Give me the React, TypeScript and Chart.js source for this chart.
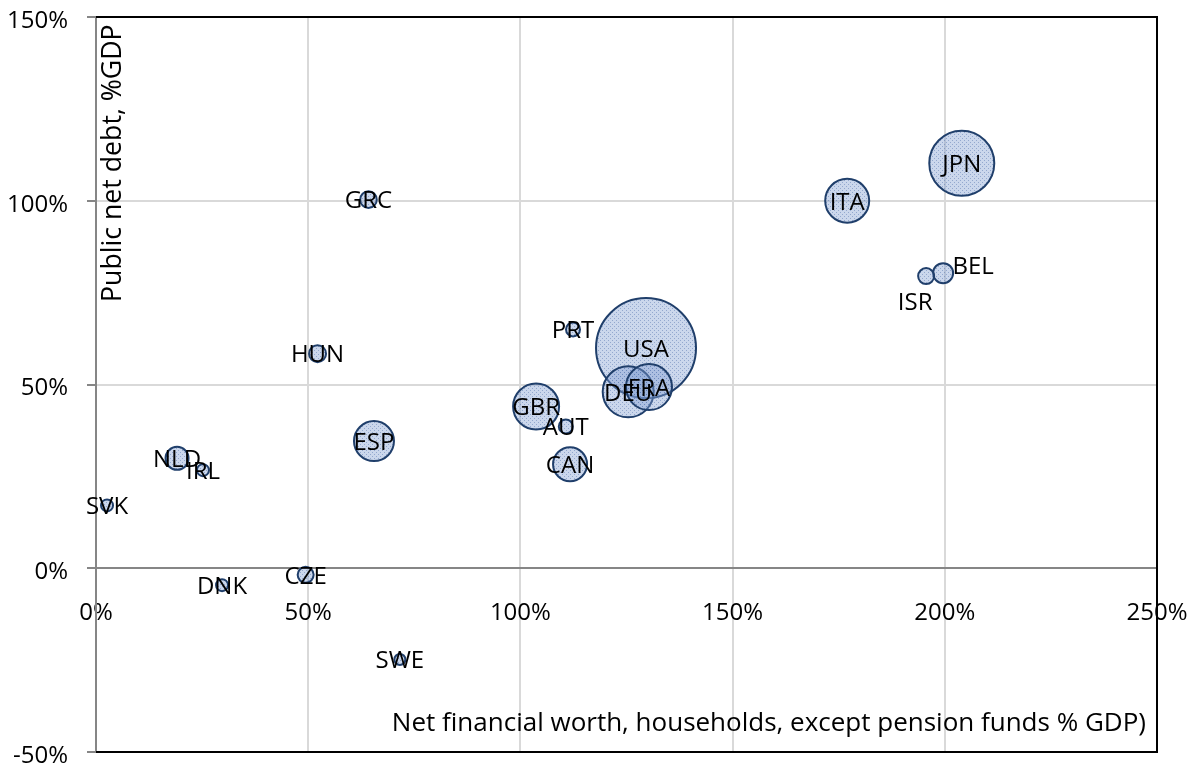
import React, { useEffect, useRef } from "react";
import { Chart, registerables } from "chart.js";

Chart.register(...registerables);

const FONT = "'Open Sans', 'Noto Sans', sans-serif";

// Country codes (drawn largest first)
const countries = ["USA", "JPN", "DEU", "FRA", "GBR", "ITA", "ESP", "CAN", "NLD", "BEL", "HUN", "GRC", "CZE", "ISR", "PRT", "AUT", "IRL", "SVK", "DNK", "SWE"];
// Net financial worth of households, except pension funds, % GDP
const netFinancialWorth = [129.6, 204.0, 125.4, 130.3, 103.7, 177.0, 65.5, 111.7, 19.1, 199.6, 52.2, 64.2, 49.4, 195.6, 112.4, 110.7, 25.2, 2.6, 29.7, 71.6];
// Public net debt, % GDP
const publicNetDebt = [59.9, 110.2, 48.0, 49.3, 44.0, 100.0, 34.6, 28.3, 29.9, 80.3, 58.4, 100.3, -1.8, 79.5, 65.0, 38.6, 26.7, 17.1, -4.6, -24.8];
// Bubble size
const bubbleSize = [50, 32.5, 25.5, 23, 23, 22, 20, 17, 11.5, 10, 8.5, 8.3, 8, 8, 7, 7, 6, 6, 6, 5.5];

const xTicks = [0, 50, 100, 150, 200, 250];
const yTicks = [-50, 0, 50, 100, 150];

const xTitle = "Net financial worth, households, except pension funds % GDP)";
const yTitle = "Public net debt, %GDP";

// label nudges relative to the bubble (Excel-style moved labels)
const labelNudge: Record<string, [number, number]> = {
  BEL: [30, -8],
  ISR: [-11, 25],
};

const zeroPad = (s: any) => {
  s.paddingLeft = 0;
  s.paddingRight = 0;
  s.paddingTop = 0;
  s.paddingBottom = 0;
};

export default function App() {
  const ref = useRef<HTMLCanvasElement | null>(null);

  useEffect(() => {
    const canvas = ref.current!;
    const ctx = canvas.getContext("2d")!;

    const pc = document.createElement("canvas");
    pc.width = 4;
    pc.height = 4;
    const g = pc.getContext("2d")!;
    g.fillStyle = "rgba(130,160,210,0.42)";
    g.fillRect(0, 0, 4, 4);
    g.fillStyle = "rgba(70,105,165,0.42)";
    g.fillRect(0, 0, 1, 1);
    g.fillRect(2, 2, 1, 1);
    const pattern = ctx.createPattern(pc, "repeat")!;

    const overlay = {
      id: "overlay",
      afterDatasetsDraw(chart: any) {
        const c = chart.ctx;
        const meta = chart.getDatasetMeta(0);
        c.save();
        c.font = `24px ${FONT}`;
        c.fillStyle = "#000";
        c.textAlign = "center";
        c.textBaseline = "middle";
        meta.data.forEach((el: any, i: number) => {
          const n = labelNudge[countries[i]] || [0, 0];
          c.fillText(countries[i], el.x + n[0], el.y + n[1] + 2);
        });
        c.restore();
      },
      afterDraw(chart: any) {
        const c = chart.ctx;
        const a = chart.chartArea;
        c.save();
        c.strokeStyle = "#000";
        c.lineWidth = 2;
        c.beginPath();
        c.moveTo(a.left, a.top);
        c.lineTo(a.right, a.top);
        c.lineTo(a.right, a.bottom);
        c.lineTo(a.left, a.bottom);
        c.stroke();

        c.fillStyle = "#000";
        c.font = `26px ${FONT}`;
        c.textAlign = "right";
        c.textBaseline = "middle";
        c.fillText(xTitle, a.right - 11, 724);

        c.font = `26.7px ${FONT}`;
        c.translate(a.left + 25, 302);
        c.rotate(-Math.PI / 2);
        c.textAlign = "left";
        c.textBaseline = "alphabetic";
        c.fillText(yTitle, 0, 0);
        c.restore();
      },
    };

    const chart = new Chart(canvas, {
      type: "bubble",
      data: {
        datasets: [
          {
            data: countries.map((_, i) => ({ x: netFinancialWorth[i], y: publicNetDebt[i], r: bubbleSize[i] })),
            backgroundColor: pattern,
            borderColor: "#203f6b",
            borderWidth: 2,
            hoverRadius: 0,
          },
        ],
      },
      options: {
        responsive: false,
        animation: false,
        devicePixelRatio: 1,
        events: [],
        layout: { autoPadding: false, padding: { top: 17, right: 37, bottom: 16, left: 0 } },
        plugins: { legend: { display: false }, tooltip: { enabled: false } },
        scales: {
          x: {
            type: "linear",
            min: 0,
            max: 250,
            position: { y: 0 } as any,
            afterBuildTicks: (s: any) => {
              s.ticks = xTicks.map((v) => ({ value: v }));
            },
            afterFit: (s: any) => {
              s.height = 0;
              zeroPad(s);
            },
            ticks: {
              color: "#000",
              padding: 31,
              font: { family: FONT, size: 24 },
              callback: (v: any) => `${v}%`,
              maxRotation: 0,
            },
            grid: {
              drawTicks: false,
              lineWidth: 2,
              color: (c: any) => (c.tick && (c.tick.value === 0 || c.tick.value === 250) ? "rgba(0,0,0,0)" : "#d9d9d9"),
            },
            border: { display: true, color: "#868686", width: 2 },
          },
          y: {
            type: "linear",
            min: -50,
            max: 150,
            position: "left",
            afterBuildTicks: (s: any) => {
              s.ticks = yTicks.map((v) => ({ value: v }));
            },
            afterFit: (s: any) => {
              s.width = 96;
              zeroPad(s);
            },
            ticks: {
              color: "#000",
              padding: 19,
              labelOffset: 4,
              font: { family: FONT, size: 24 },
              callback: (v: any) => `${v}%`,
            },
            grid: {
              tickLength: 9,
              tickColor: "#868686",
              tickWidth: 2,
              lineWidth: 2,
              color: (c: any) => (c.tick && (c.tick.value === 0 || c.tick.value === 150 || c.tick.value === -50) ? "rgba(0,0,0,0)" : "#d9d9d9"),
            },
            border: { display: true, color: "#868686", width: 2 },
          },
        },
      },
      plugins: [overlay],
    });

    return () => chart.destroy();
  }, []);

  return (
    <canvas
      ref={ref}
      width={1194}
      height={768}
      style={{ position: "absolute", left: 0, top: 0, display: "block" }}
    />
  );
}
